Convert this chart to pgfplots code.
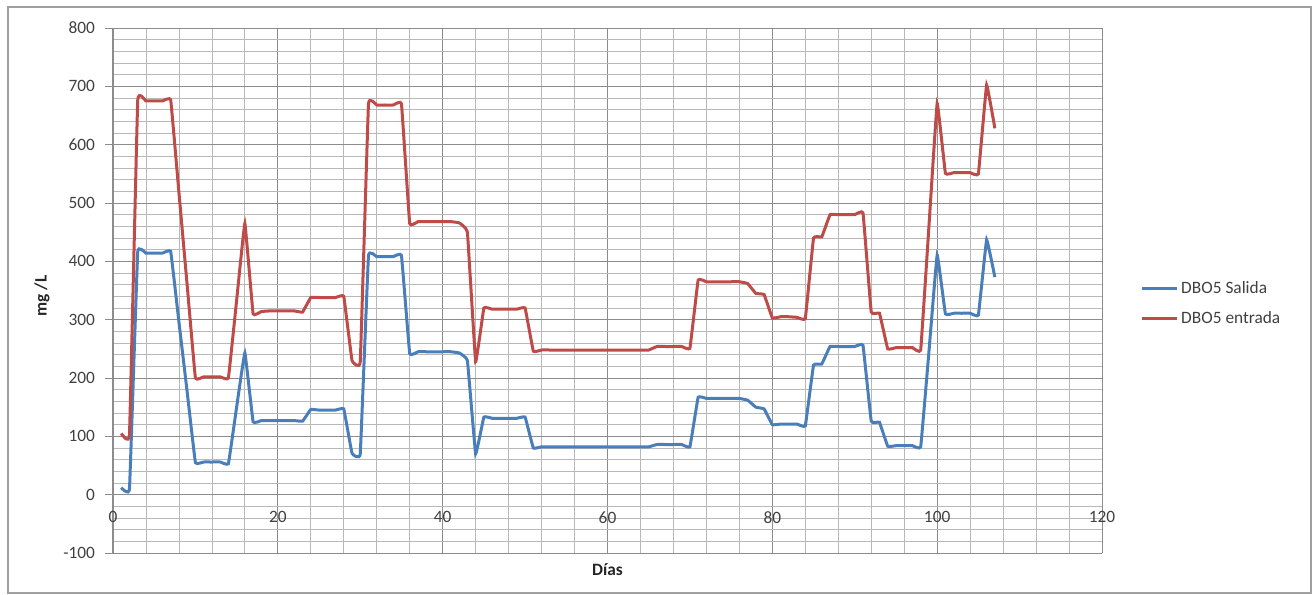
\documentclass[border=0pt]{standalone}
\usepackage{fontspec}
\setmainfont{Carlito}
\usepackage{pgfplots}
\usepackage{pgfplotstable}
\pgfplotsset{compat=1.18}
\definecolor{cblue}{HTML}{4A7EBB}
\definecolor{cred}{HTML}{BE4B48}
\definecolor{gmaj}{HTML}{8C8C8C}
\definecolor{gmin}{HTML}{B8B8B8}
\definecolor{txt}{HTML}{404040}

\pgfplotstableread{
day entrada salida
1 105 12
2 103 10
3 676 416
4 675 414
5 675 414
6 675 414
7 677 417
8 518 296
9 359 176
10 200 55
11 202 56
12 202 56
13 202 56
14 200 53
15 333 150
16 465 243
17 310 125
18 314 127
19 315 127
20 315 127
21 315 127
22 315 127
23 313 126
24 338 146
25 338 145
26 338 145
27 338 145
28 340 147
29 230 71
30 228 70
31 670 410
32 668 408
33 668 408
34 668 408
35 670 410
36 465 242
37 468 245
38 468 245
39 468 245
40 468 245
41 468 245
42 466 243
43 450 230
44 228 70
45 320 133
46 318 131
47 318 131
48 318 131
49 318 131
50 320 133
51 246 80
52 248 82
53 248 82
54 248 82
55 248 82
56 248 82
57 248 82
58 248 82
59 248 82
60 248 82
61 248 82
62 248 82
63 248 82
64 248 82
65 248 82
66 254 86
67 254 86
68 254 86
69 254 86
70 251 82
71 368 167
72 365 165
73 365 165
74 365 165
75 365 165
76 365 165
77 362 162
78 345 150
79 343 147
80 303 120
81 305 121
82 305 121
83 304 121
84 302 118
85 440 222
86 442 224
87 480 254
88 480 254
89 480 254
90 480 254
91 483 256
92 313 126
93 311 124
94 250 83
95 252 84
96 252 84
97 252 84
98 248 82
99 460 245
100 671 411
101 551 310
102 552 311
103 552 311
104 552 311
105 550 308
106 702 437
107 628 373
}\datatable

\begin{document}
\begin{tikzpicture}
\useasboundingbox (-84.75pt,-30.75pt) rectangle (900pt,414.75pt);
\draw[color=gray!75, line width=1.2pt] (-78.75pt,-30pt) rectangle (898.5pt,409.5pt);
\begin{axis}[
  at={(0pt,0pt)}, anchor=south west,
  scale only axis, width=741.75pt, height=393.75pt,
  xmin=0, xmax=120, ymin=-100, ymax=800,
  xtick={0,20,...,120}, ytick={-100,0,...,800},
  minor x tick num=4, minor y tick num=4,
  grid=both,
  major grid style={color=gmaj, line width=0.7pt},
  minor grid style={color=gmin, line width=0.6pt},
  axis x line=middle, axis y line=left,
  axis line style={-, color=gmaj, line width=0.8pt},
  hide obscured x ticks=false, hide obscured y ticks=false,
  tick align=outside, major tick length=6pt, minor tick length=0pt,
  tick style={color=gmaj, line width=0.7pt},
  /pgf/number format/assume math mode=true,
  ticklabel style={font=\fontsize{13}{15}\selectfont, text=txt},
  yticklabel style={xshift=-4pt},
  xticklabel style={yshift=-3pt},
  xlabel={\textbf{Días}},
  ylabel={\textbf{mg /L}},
  xlabel style={at={(rel axis cs:0.5,0)}, anchor=north, yshift=-4pt, font=\fontsize{13}{15}\selectfont, text=black!85},
  ylabel style={at={(rel axis cs:-0.0593,0.49)}, anchor=south, font=\fontsize{13}{15}\selectfont, text=black!85},
  legend style={draw=none, fill=none, at={(rel axis cs:1.035,0.476)}, anchor=west,
    font=\fontsize{13}{15}\selectfont, text=txt, row sep=8pt},
  legend cell align=left,
  legend image code/.code={\draw[#1] (0pt,0pt) -- (26pt,0pt);},
]
\addplot[color=cblue, line width=2.25pt, smooth, tension=0.12] table[x=day, y=salida] {\datatable};
\addlegendentry{DBO5 Salida}
\addplot[color=cred, line width=2.25pt, smooth, tension=0.12] table[x=day, y=entrada] {\datatable};
\addlegendentry{DBO5 entrada}
\end{axis}
\end{tikzpicture}
\end{document}
